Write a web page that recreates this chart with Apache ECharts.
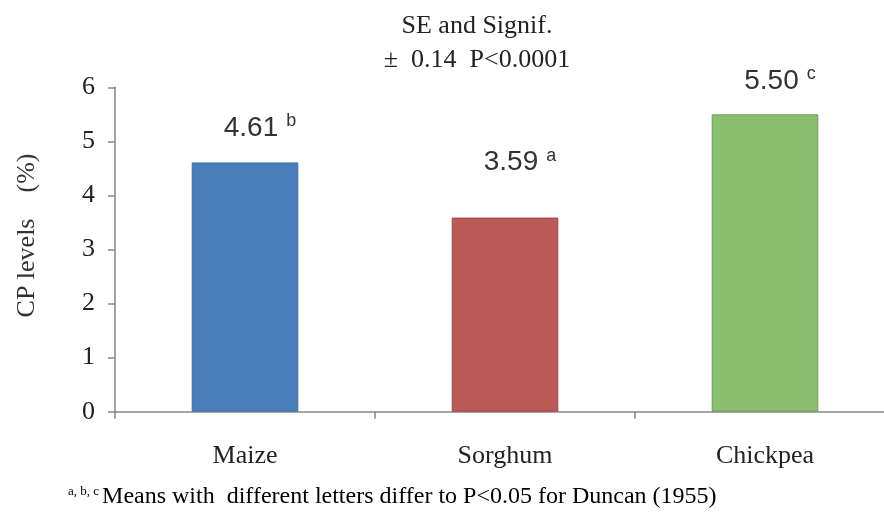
<!DOCTYPE html>
<html>
<head>
<meta charset="utf-8">
<script src="https://cdn.jsdelivr.net/npm/echarts@6/dist/echarts.min.js"></script>
<style>
html,body{margin:0;padding:0;background:#fff;}
#chart{width:884px;height:515px;}
</style>
</head>
<body>
<div id="chart"></div>
<script>
// ---- data ----
const categories = ['Maize', 'Sorghum', 'Chickpea'];
const cpValues = [4.61, 3.59, 5.50];
const sigLetters = ['b', 'a', 'c'];
const yTicks = [0, 1, 2, 3, 4, 5, 6];
const titleLines = ['SE and Signif.', '\u00b1  0.14  P<0.0001'];
const yAxisName = 'CP levels    (%)';
const footSup = 'a, b, c';
const footText = 'Means with  different letters differ to P<0.05 for Duncan (1955)';

// ---- styles ----
const barColors = ['#4a7ebb', '#bc5a57', '#8bbe6e'];
const barBorders = ['#3e6c9f', '#9c4744', '#6f9a58'];
const labelDistances = [20, 41, 19];
const serif = '"Liberation Serif", "Times New Roman", serif';
const sans = '"Liberation Sans", Arial, sans-serif';

const chart = echarts.init(document.getElementById('chart'), null, {renderer: 'canvas'});

const seriesData = cpValues.map((v, i) => ({
  value: v,
  itemStyle: {color: barColors[i], borderColor: barBorders[i], borderWidth: 1},
  label: {distance: labelDistances[i]}
}));

chart.setOption({
  animation: false,
  backgroundColor: '#ffffff',
  title: {
    text: titleLines.join('\n'),
    left: 477,
    top: 9,
    padding: 0,
    textAlign: 'center',
    textStyle: {
      fontFamily: serif, fontSize: 26, fontWeight: 'normal',
      color: '#222222', lineHeight: 34
    }
  },
  grid: {left: 115, right: -11, top: 87.3, bottom: 103.3, containLabel: false, outerBoundsMode: 'none'},
  xAxis: {
    type: 'category',
    data: categories,
    boundaryGap: true,
    axisLine: {show: true, lineStyle: {color: '#868686', width: 1.5}},
    axisTick: {show: true, alignWithLabel: false, length: 7, lineStyle: {color: '#868686', width: 1.5}},
    axisLabel: {fontFamily: serif, fontSize: 26, color: '#222222', margin: 31},
    splitLine: {show: false}
  },
  yAxis: {
    type: 'value',
    min: yTicks[0],
    max: yTicks[yTicks.length - 1],
    interval: 1,
    name: yAxisName,
    nameLocation: 'middle',
    nameGap: 75,
    nameTextStyle: {fontFamily: serif, fontSize: 26, color: '#333333', padding: [0, 0, 0, 28]},
    axisLine: {show: true, lineStyle: {color: '#868686', width: 1.5}},
    axisTick: {show: true, length: 7, lineStyle: {color: '#868686', width: 1.5}},
    axisLabel: {fontFamily: serif, fontSize: 26, color: '#222222', margin: 20},
    splitLine: {show: false}
  },
  series: [{
    type: 'bar',
    data: seriesData,
    barWidth: '41%',
    label: {
      show: true,
      position: 'top',
      offset: [15, 0],
      formatter: function (p) {
        return '{v|' + cpValues[p.dataIndex].toFixed(2) + '}{s|' + sigLetters[p.dataIndex] + '}';
      },
      rich: {
        v: {fontFamily: sans, fontSize: 28, color: '#333333', lineHeight: 28},
        s: {fontFamily: sans, fontSize: 18, color: '#333333', padding: [0, 0, 14, 8], lineHeight: 18}
      }
    }
  }],
  graphic: [{
    type: 'text',
    left: 68,
    top: 485,
    style: {
      text: '{s|' + footSup + '}{m|' + footText + '}',
      rich: {
        s: {fontFamily: serif, fontSize: 13, color: '#333333', padding: [0, 3, 10, 0]},
        m: {fontFamily: serif, fontSize: 24, color: '#222222', lineHeight: 28}
      }
    }
  }]
});
</script>
</body>
</html>
